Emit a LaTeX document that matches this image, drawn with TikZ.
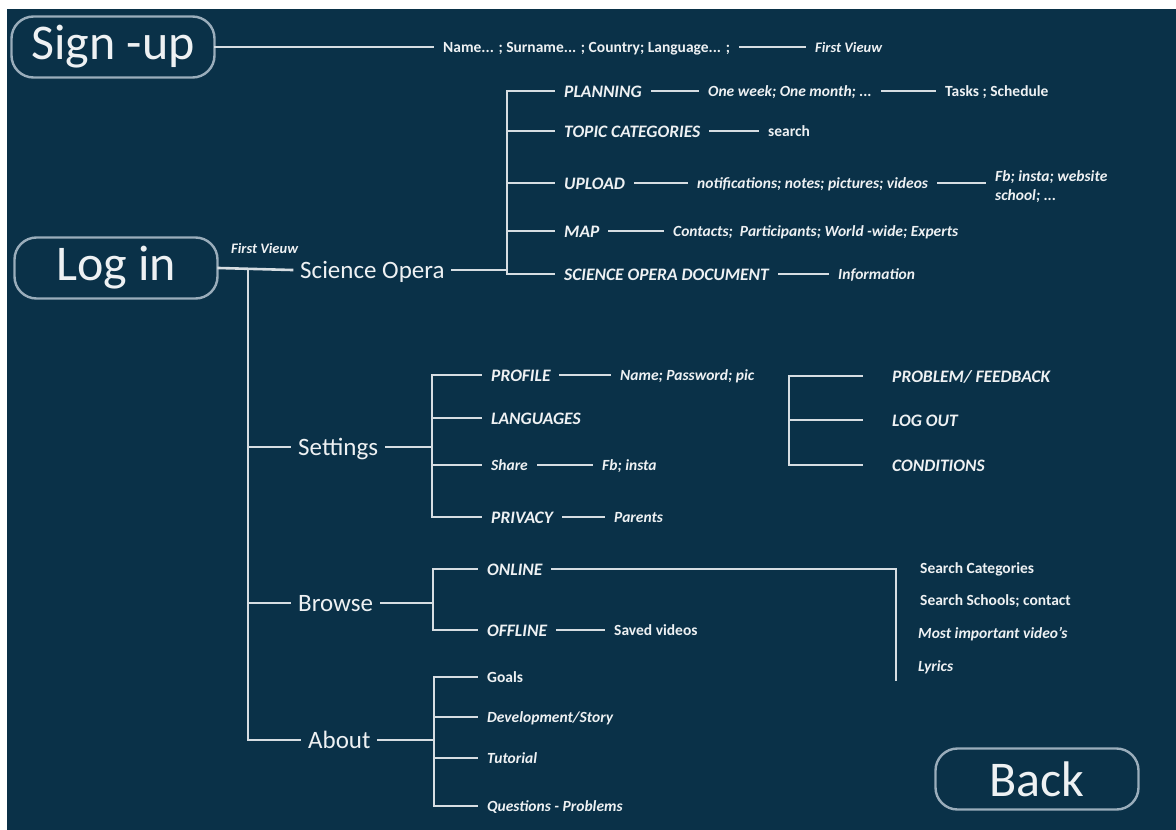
\documentclass[tikz,border=0pt]{standalone}
\usepackage{fontspec}
\setmainfont{Carlito}
\usepackage{tikz}
\usetikzlibrary{positioning, calc}

\definecolor{navy}{HTML}{0A3148}
\definecolor{wire}{HTML}{D6DDE2}
\definecolor{rim}{HTML}{9AADBB}
\definecolor{ink}{HTML}{EEF1F3}

\begin{document}
\begin{tikzpicture}[
				x=1pt, y=-1pt,
				% --- STYLES ---
				btn/.style={
					rectangle, draw=rim, line width=2.4pt, rounded corners=22pt,
					minimum width=203pt, minimum height=61pt, text=ink, font=\fontsize{50}{56}\selectfont
				},
				menu/.style={
					anchor=west, inner xsep=8pt, text=ink, text height=17pt, text depth=0pt,
					font=\fontsize{25}{28}\selectfont
				},
				head/.style={
					anchor=west, inner xsep=10pt, xshift=-10pt, text=ink, text height=12pt, text depth=0pt,
					font=\fontsize{17.5}{20}\selectfont\bfseries\itshape
				},
				note/.style={
					anchor=west, inner xsep=10pt, xshift=-10pt, text=ink, text height=11pt, text depth=0pt,
					font=\fontsize{15.5}{19}\selectfont\bfseries\itshape
				},
				plain/.style={
					note, font=\fontsize{15.5}{19}\selectfont\bfseries\upshape
				},
				tag/.style={
					anchor=west, inner sep=0pt, text=ink, font=\fontsize{14.5}{17}\selectfont\bfseries\itshape
				},
				far/.style={
					inner xsep=30pt, xshift=-20pt
				},
				line/.style={
					draw=wire, line width=2.6pt, line cap=rect
				}
				]
				
				% ==========================================
				% 0. Fondo
				% ==========================================
				\useasboundingbox (0,0) rectangle (1176,830);
				\fill [white] (0,0) rectangle (1176,830);
				\fill [navy] (7,9) rectangle (1176,830);
				
				% ==========================================
				% 1. Sign-up
				% ==========================================
				\node [btn] (signup) at (113,47) {Sign -up};
				\node [plain] (sign_fields) at (443,47) {Name... ; Surname... ; Country; Language... ;};
				\node [tag] (sign_view) at (815,47) {First Vieuw};
				\draw [line] (signup) -- (sign_fields);
				\draw [line] (sign_fields) -- ([xshift=-10pt]sign_view.west);
				
				% ==========================================
				% 2. Log in y tronco principal
				% ==========================================
				\node [btn] (login) at (116,268) {Log in};
				\node [tag] (login_view) at (231,248) {First Vieuw};
				
				\node [menu] (opera) at (292,270) {Science Opera};
				\node [menu] (settings) at (290,447) {Settings};
				\node [menu] (browse) at (290,603) {Browse};
				\node [menu] (about) at (300,740) {About};
				
				\coordinate (trunk) at (248,269);
				\draw [line] (login.east) -- (opera.west);
				\draw [line] (trunk) |- (about.west);
				\foreach \n in {settings, browse}
					\draw [line] (trunk |- \n.west) -- (\n.west);
				
				% ==========================================
				% 3. Science Opera
				% ==========================================
				\node [head] (planning) at (564,91) {PLANNING};
				\node [note] (plan_span) at (708,91) {One week; One month; ...};
				\node [plain] (plan_task) at (945,91) {Tasks ; Schedule};
				
				\node [head] (topics) at (564,131) {TOPIC CATEGORIES};
				\node [plain] (topic_search) at (768,131) {search};
				
				\node [head] (upload) at (564,183) {UPLOAD};
				\node [note] (up_kind) at (697,183) {notifications; notes; pictures; videos};
				\node [note, align=left] (up_dest) at (995,195) {Fb; insta; website\\school; ...};
				
				\node [head] (map) at (564,231) {MAP};
				\node [note] (map_who) at (673,231) {Contacts;\ \ Participants; World -wide; Experts};
				
				\node [head] (opera_doc) at (564,274) {SCIENCE OPERA DOCUMENT};
				\node [note] (doc_info) at (838,274) {Information};
				
				\coordinate (opera_spine) at (507,274);
				\draw [line] (opera) -- (opera -| opera_spine);
				\draw [line] (planning.west) -| (opera_spine) -- (opera_doc.west);
				\foreach \n in {topics, upload, map}
					\draw [line] (opera_spine |- \n.west) -- (\n.west);
				
				\draw [line] (planning) -- (plan_span);
				\draw [line] (plan_span) -- (plan_task);
				\draw [line] (topics) -- (topic_search);
				\draw [line] (upload) -- (up_kind);
				\draw [line] (up_kind) -- (up_kind -| up_dest.west);
				\draw [line] (map) -- (map_who);
				\draw [line] (opera_doc) -- (doc_info);
				
				% ==========================================
				% 4. Settings
				% ==========================================
				\node [head] (profile) at (491,375) {PROFILE};
				\node [note] (prof_data) at (620,375) {Name; Password; pic};
				\node [head] (languages) at (491,418) {LANGUAGES};
				\node [note] (share) at (491,465) {Share};
				\node [note] (share_to) at (602,465) {Fb; insta};
				\node [head] (privacy) at (491,517) {PRIVACY};
				\node [note] (priv_who) at (614,517) {Parents};
				
				\coordinate (set_spine) at (432,447);
				\draw [line] (settings) -- (settings -| set_spine);
				\draw [line] (profile.west) -| (set_spine |- privacy) -- (privacy.west);
				\foreach \n in {languages, share}
					\draw [line] (set_spine |- \n.west) -- (\n.west);
				
				\draw [line] (profile) -- (prof_data);
				\draw [line] (share) -- (share_to);
				\draw [line] (privacy) -- (priv_who);
				
				% bloque suelto de la derecha
				\node [head, far] (feedback) at (892,376) {PROBLEM/ FEEDBACK};
				\node [head, far] (logout) at (892,420) {LOG OUT};
				\node [head, far] (terms) at (892,465) {CONDITIONS};
				
				\coordinate (aux_spine) at (789,420);
				\draw [line] (feedback.west) -| (aux_spine |- terms) -- (terms.west);
				\draw [line] (aux_spine |- logout) -- (logout.west);
				
				% ==========================================
				% 5. Browse
				% ==========================================
				\node [head] (online) at (487,569) {ONLINE};
				\node [head] (offline) at (487,630) {OFFLINE};
				\node [plain] (saved) at (614,630) {Saved videos};
				
				\node [plain] (web_cat) at (920,568) {Search Categories};
				\node [plain] (web_school) at (920,600) {Search Schools; contact};
				\node [note] (web_top) at (918,633) {Most important video's};
				\node [note] (web_lyrics) at (918,666) {Lyrics};
				
				\coordinate (browse_spine) at (433,603);
				\draw [line] (browse) -- (browse -| browse_spine);
				\draw [line] (online.west) -| (browse_spine |- offline) -- (offline.west);
				\draw [line] (offline) -- (saved);
				
				\coordinate (web_spine) at (896,680);
				\draw [line] (online.east) -| (web_spine);
				
				% ==========================================
				% 6. About
				% ==========================================
				\node [plain] (goals) at (487,677) {Goals};
				\node [note] (story) at (487,717) {Development/Story};
				\node [note] (tutorial) at (487,758) {Tutorial};
				\node [note] (questions) at (487,806) {Questions - Problems};
				
				\coordinate (about_spine) at (434,740);
				\draw [line] (about) -- (about -| about_spine);
				\draw [line] (goals.west) -| (about_spine |- questions) -- (questions.west);
				\foreach \n in {story, tutorial}
					\draw [line] (about_spine |- \n.west) -- (\n.west);
				
				% ==========================================
				% 7. Back
				% ==========================================
				\node [btn] (back) at (1037,779) {Back};
			\end{tikzpicture}
\end{document}
